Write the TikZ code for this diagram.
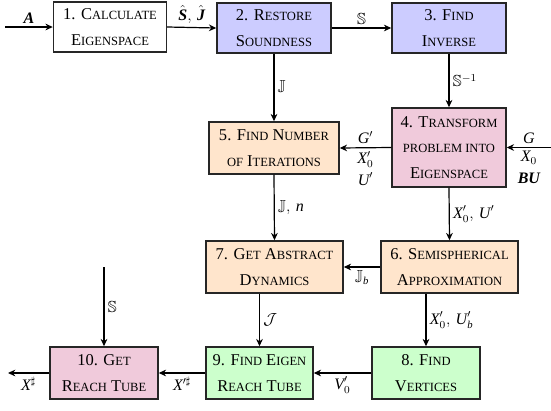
\documentclass[tikz,border=0pt]{standalone}
\usepackage{amsmath,amssymb}
\usepackage{fontspec}
\setmainfont{Liberation Serif}
\usetikzlibrary{arrows.meta}
\newcommand\smc[1]{{\fontsize{9.4}{19}\selectfont #1}}
\newcommand\vi[1]{\text{\itshape #1}}
\newcommand\vb[1]{\text{\bfseries\itshape #1}}
\definecolor{lav}{RGB}{204,204,255}
\definecolor{pinkb}{RGB}{240,202,219}
\definecolor{peach}{RGB}{255,229,204}
\definecolor{mint}{RGB}{204,255,204}
\begin{document}
\begin{tikzpicture}[x=0.75pt,y=-0.75pt,
  box/.style={draw=black!85, line width=1.1pt, align=center, inner sep=0pt,
    font=\fontsize{12.4}{19}\selectfont, minimum height=37.5pt},
  conn/.style={-{Stealth[length=5.5pt,width=5pt]}, line width=0.9pt},
  lab/.style={font=\fontsize{12}{16}\selectfont, inner sep=2.5pt}]
\useasboundingbox (0,0) rectangle (551,411);
% boxes
\node[box, minimum width=84.75pt] (n1) at (110,27) {1. C\smc{ALCULATE}\\E\smc{IGENSPACE}};
\node[box, fill=lav, minimum width=85.5pt] (n2) at (274,28) {2. R\smc{ESTORE}\\S\smc{OUNDNESS}};
\node[box, fill=lav, minimum width=85.5pt] (n3) at (449,28) {3. F\smc{IND}\\I\smc{NVERSE}};
\node[box, fill=pinkb, minimum width=85.5pt, minimum height=59.25pt] (n4) at (449,147.5) {4. T\smc{RANSFORM}\\\smc{PROBLEM INTO}\\E\smc{IGENSPACE}};
\node[box, fill=peach, minimum width=97.5pt, minimum height=39pt] (n5) at (274,148) {5. F\smc{IND} N\smc{UMBER}\\\smc{OF} I\smc{TERATIONS}};
\node[box, fill=peach, minimum width=102.75pt, minimum height=39pt] (n7) at (274.5,267) {7. G\smc{ET} A\smc{BSTRACT}\\D\smc{YNAMICS}};
\node[box, fill=peach, minimum width=102.75pt, minimum height=39pt] (n6) at (449.5,267) {6. S\smc{EMISPHERICAL}\\A\smc{PPROXIMATION}};
\node[box, fill=pinkb, minimum width=81pt, minimum height=39pt] (n10) at (104,373) {10. G\smc{ET}\\R\smc{EACH} T\smc{UBE}};
\node[box, fill=mint, minimum width=80.25pt, minimum height=39pt] (n9) at (259.5,373) {9. F\smc{IND} E\smc{IGEN}\\R\smc{EACH} T\smc{UBE}};
\node[box, fill=mint, minimum width=81pt, minimum height=39pt] (n8) at (426,373) {8. F\smc{IND}\\V\smc{ERTICES}};
% free ends
\coordinate (inA) at (5,27);
\coordinate (inG) at (551,147.5);
\coordinate (outX) at (8,373);
\coordinate (sTop) at (104,267);
% connectors
\draw[conn] (inA) -- node[lab, above] (lA) {$\vb{A}$} (n1.west);
\draw[conn] (n1.east) -- node[lab, above] (lSJ) {$\hat{\vb{S}},\,\hat{\vb{J}}$} (n2.west);
\draw[conn] (n2.east) -- node[lab, above] (lS1) {$\mathbb{S}$} (n3.west);
\draw[conn] (n2.south) -- node[lab, right] (lJ1) {$\mathbb{J}$} (n5.north);
\draw[conn] (n3.south) -- node[lab, right] (lSinv) {$\mathbb{S}^{-1}$} (n4.north);
\draw[conn] (inG) -- node[lab, above] (lG) {$\vi{G}$} node[lab, below, align=center] (lXB) {$\vi{X}_0$\\$\vb{BU}$} (n4.east);
\draw[conn] (n4.west) -- node[lab, above] (lGp) {$\vi{G}'$} node[lab, below, align=center] (lXU) {$\vi{X}_0'$\\$\vi{U}'$} (n5.east);
\draw[conn] (n5.south) -- node[lab, right] (lJn) {$\mathbb{J},\,\vi{n}$} (n7.north);
\draw[conn] (n4.south) -- node[lab, right] (lXU2) {$\vi{X}_0',\,\vi{U}'$} (n6.north);
\draw[conn] (n6.west) -- node[lab, below] (lJb) {$\mathbb{J}_{\vi{b}}$} (n7.east);
\draw[conn] (n6.south -| n8.north) -- node[lab, right] (lXUb) {$\vi{X}_0',\,\vi{U}_{\vi{b}}'$} (n8.north);
\draw[conn] (n7.south -| n9.north) -- node[lab, right] (lcJ) {$\mathcal{J}$} (n9.north);
\draw[conn] (n8.west) -- node[lab, below] (lV) {$\vi{V}_0'$} (n9.east);
\draw[conn] (n9.west) -- node[lab, below] (lXp) {$\vi{X}'^{\sharp}$} (n10.east);
\draw[conn] (n10.west) -- node[lab, below] (lX) {$\vi{X}^{\sharp}$} (outX);
\draw[conn] (sTop) -- node[lab, right] (lS2) {$\mathbb{S}$} (n10.north);
\end{tikzpicture}
\end{document}
